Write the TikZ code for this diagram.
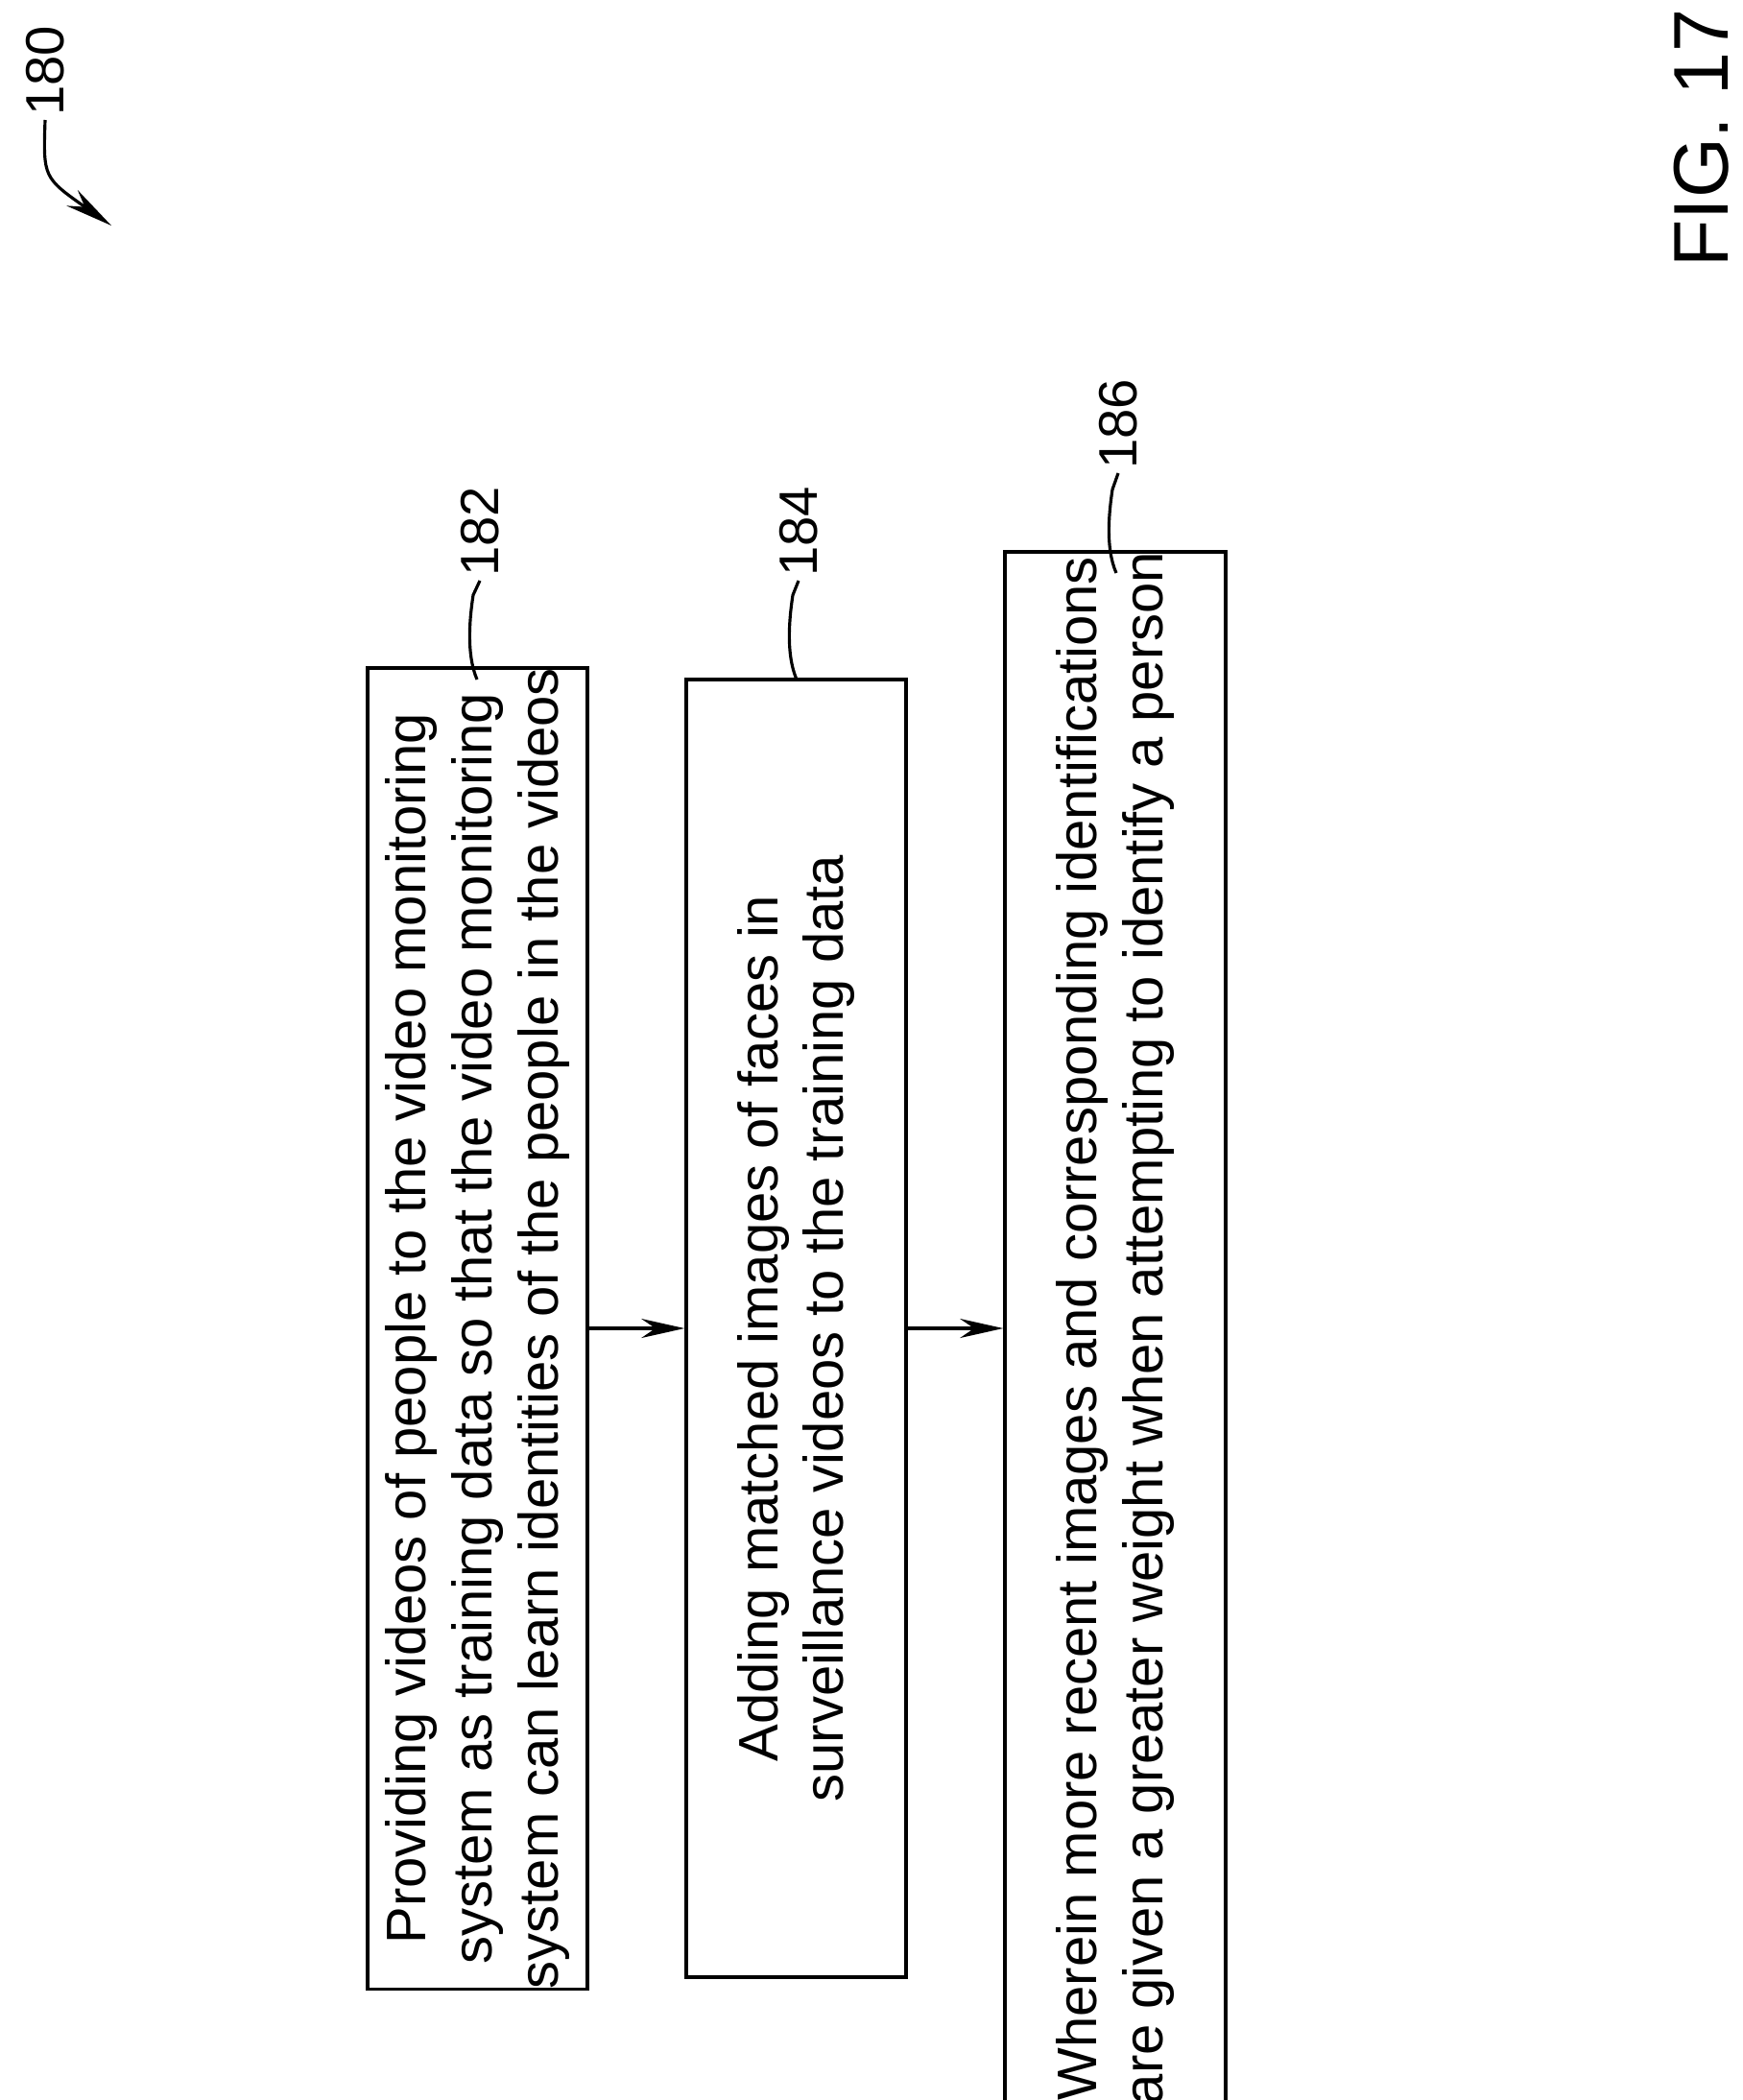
\documentclass[tikz,border=0pt]{standalone}
\usepackage{fontspec}
\setmainfont{Liberation Sans}
\usetikzlibrary{arrows.meta}
\tikzset{
  stepbox/.style={draw, line width=1pt, rotate=90, align=center, inner sep=0pt,
    font=\fontsize{16.5}{19.5}\selectfont},
  refnum/.style={rotate=90, anchor=west, inner sep=1pt, font=\fontsize{16}{18}\selectfont},
  leader/.style={line width=0.9pt},
  flow/.style={line width=0.9pt, -{Stealth[length=4.5mm,width=2mm]}}
}
\begin{document}
\begin{tikzpicture}
  \useasboundingbox (0,0) rectangle (18.15,-21.88);
  % boxes
  \node[stepbox, minimum width=13.52cm, minimum height=2.29cm] (prov) at (4.975,-13.84)
    {Providing videos of people to the video monitoring\\system as training data so that the video monitoring\\system can learn identities of the people in the videos};
  \node[stepbox, minimum width=13.52cm, minimum height=2.29cm] (add) at (8.295,-13.84)
    {Adding matched images of faces in\\surveillance videos to the training data};
  \node[stepbox, minimum width=15.74cm, minimum height=2.30cm] (recent) at (11.62,-13.84)
    {Wherein more recent images and corresponding identifications\\are given a greater weight when attempting to identify a person};
  \draw[flow] (prov) -- (add);
  \draw[flow] (add) -- (recent);
  % reference numerals
  \node[refnum] (n182) at (5.00,-6.05) {182};
  \node[refnum] (n184) at (8.32,-6.05) {184};
  \node[refnum] (n186) at (11.65,-4.93) {186};
  \node[refnum] (n180) at (0.47,-1.25) {180};
  \draw[leader] (4.97,-7.08) .. controls (4.85,-6.8) and (4.90,-6.4) .. (4.93,-6.2) -- (n182.west);
  \draw[leader] (8.30,-7.08) .. controls (8.18,-6.8) and (8.23,-6.4) .. (8.26,-6.2) -- (n184.west);
  \draw[leader] (11.63,-5.97) .. controls (11.51,-5.7) and (11.56,-5.3) .. (11.59,-5.1) -- (n186.west);
  \coordinate (tip180) at (1.16,-2.35);
  \draw[leader, -{Stealth[length=5mm,width=2mm]}] (n180.west) .. controls (0.45,-1.85) .. (tip180);
  % figure label
  \node[rotate=90, font=\fontsize{23}{26}\selectfont] (fig) at (17.73,-1.44) {FIG. 17};
\end{tikzpicture}
\end{document}
